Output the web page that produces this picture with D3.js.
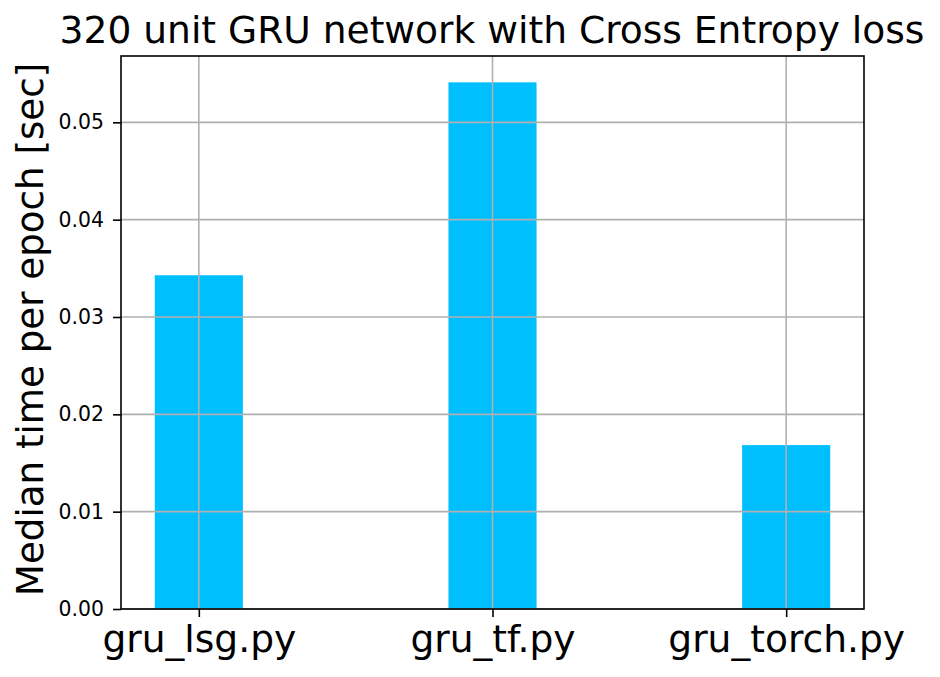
<!DOCTYPE html>
<html>
<head>
<meta charset="utf-8">
<script src="https://cdn.jsdelivr.net/npm/d3@7"></script>
<style>
  html, body { margin: 0; padding: 0; background: #fff; }
  svg { display: block; font-family: "DejaVu Sans", sans-serif; }
</style>
</head>
<body>
<svg id="chart" width="940" height="677"></svg>
<script>
const categories = ["gru_lsg.py", "gru_tf.py", "gru_torch.py"];
const values = [0.03429, 0.05411, 0.01684];
const yTicks = [0.00, 0.01, 0.02, 0.03, 0.04, 0.05];
const title = "320 unit GRU network with Cross Entropy loss";
const yLabel = "Median time per epoch [sec]";

(function () {
const svg = d3.select("#chart");
const mLeft = 121, mRight = 864, mTop = 56, mBottom = 609;
const barWidth = 0.3;

const x = d3.scaleLinear()
  .domain([-barWidth / 2 - 0.115, categories.length - 1 + barWidth / 2 + 0.115])
  .range([mLeft, mRight]);
const y = d3.scaleLinear()
  .domain([0, d3.max(values) * 1.05])
  .range([mBottom, mTop]);

// bars
svg.append("g").selectAll("rect")
  .data(values)
  .join("rect")
  .attr("x", (d, i) => x(i - barWidth / 2))
  .attr("width", (d, i) => x(i + barWidth / 2) - x(i - barWidth / 2))
  .attr("y", d => y(d))
  .attr("height", d => y(0) - y(d))
  .attr("fill", "#00bfff");

// grid (drawn above bars)
const grid = svg.append("g").attr("stroke", "#b0b0b0").attr("stroke-width", 1.6);
grid.selectAll("line.h")
  .data(yTicks)
  .join("line")
  .attr("class", "h")
  .attr("x1", mLeft).attr("x2", mRight)
  .attr("y1", d => y(d)).attr("y2", d => y(d));
grid.selectAll("line.v")
  .data(categories)
  .join("line")
  .attr("class", "v")
  .attr("x1", (d, i) => x(i)).attr("x2", (d, i) => x(i))
  .attr("y1", mTop).attr("y2", mBottom);

// y axis
const yAxis = d3.axisLeft(y)
  .tickValues(yTicks)
  .tickFormat(d3.format(".2f"))
  .tickSize(8)
  .tickPadding(9);
const gy = svg.append("g").attr("transform", `translate(${mLeft},0)`).call(yAxis);
gy.select(".domain").remove();
gy.selectAll(".tick line").attr("stroke", "#000").attr("stroke-width", 1.6);
gy.selectAll(".tick text")
  .attr("font-family", "DejaVu Sans")
  .attr("font-size", 20.4)
  .attr("fill", "#000");

// x axis
const xAxis = d3.axisBottom(x)
  .tickValues(categories.map((d, i) => i))
  .tickFormat(i => categories[i])
  .tickSize(8)
  .tickPadding(6);
const gx = svg.append("g").attr("transform", `translate(0,${mBottom})`).call(xAxis);
gx.select(".domain").remove();
gx.selectAll(".tick line").attr("stroke", "#000").attr("stroke-width", 1.6);
gx.selectAll(".tick text")
  .attr("font-family", "DejaVu Sans")
  .attr("font-size", 37.6)
  .attr("fill", "#000")
  .attr("dy", "0.78em");

// frame
svg.append("rect")
  .attr("x", mLeft).attr("y", mTop)
  .attr("width", mRight - mLeft).attr("height", mBottom - mTop)
  .attr("fill", "none").attr("stroke", "#000").attr("stroke-width", 1.6);

// title
svg.append("text")
  .attr("x", 492)
  .attr("y", 43)
  .attr("text-anchor", "middle")
  .attr("font-size", 37.6)
  .attr("fill", "#000")
  .text(title);

// y label
svg.append("text")
  .attr("transform", `translate(43,329.5) rotate(-90)`)
  .attr("text-anchor", "middle")
  .attr("font-size", 37.2)
  .attr("fill", "#000")
  .text(yLabel);
})();
</script>
</body>
</html>
